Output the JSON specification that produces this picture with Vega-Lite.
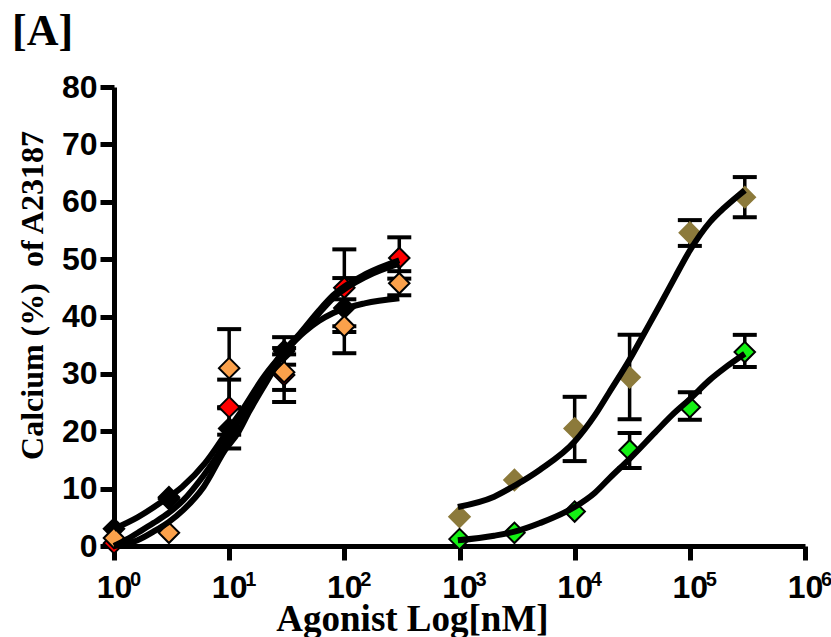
{
  "$schema": "https://vega.github.io/schema/vega-lite/v6.json",
  "width": 691,
  "height": 459,
  "autosize": {"type": "none"},
  "padding": {"left": 114, "top": 87, "right": 26, "bottom": 91},
  "background": "white",
  "title": {"text": "[A]", "anchor": "start", "frame": "group", "dx": -102, "offset": 17, "font": "Liberation Serif", "fontSize": 44, "fontWeight": "bold", "color": "black"},
  "config": {
    "view": {"stroke": null},
    "axis": {
      "grid": false,
      "domainColor": "black", "domainWidth": 5,
      "tickColor": "black", "tickWidth": 5, "tickSize": 14,
      "labelFont": "Liberation Sans", "labelFontWeight": "bold", "labelFontSize": 32, "labelColor": "black", "labelFlush": false,
      "titleFont": "Liberation Serif", "titleFontWeight": "bold", "titleColor": "black"
    }
  },
  "datasets": {
    "pts": [
      {"series": "red", "x": 1, "y": 0.5},
      {"series": "red", "x": 3, "y": 8.2},
      {"series": "black", "x": 1, "y": 3},
      {"series": "black", "x": 3, "y": 8.5},
      {"series": "black", "x": 10, "y": 20.5, "lo": 17, "hi": 24},
      {"series": "black", "x": 30, "y": 34, "lo": 31.6, "hi": 36.4},
      {"series": "black", "x": 100, "y": 41.5, "lo": 37.3, "hi": 46.7},
      {"series": "red", "x": 10, "y": 24.2, "lo": 19.4, "hi": 29},
      {"series": "red", "x": 30, "y": 29.8, "lo": 25.1, "hi": 34.5},
      {"series": "red", "x": 100, "y": 45, "lo": 38.3, "hi": 51.7},
      {"series": "red", "x": 300, "y": 50.2, "lo": 46.6, "hi": 53.8},
      {"series": "orange", "x": 1, "y": 1.4},
      {"series": "orange", "x": 3, "y": 2.3},
      {"series": "orange", "x": 10, "y": 31, "lo": 24.2, "hi": 37.8},
      {"series": "orange", "x": 30, "y": 30.3, "lo": 27.2, "hi": 33.4},
      {"series": "orange", "x": 100, "y": 38.3, "lo": 33.6, "hi": 43},
      {"series": "orange", "x": 300, "y": 45.8, "lo": 43.7, "hi": 47.9},
      {"series": "olive", "x": 1000, "y": 5.1},
      {"series": "olive", "x": 3000, "y": 11.5},
      {"series": "olive", "x": 10000, "y": 20.5, "lo": 14.8, "hi": 26},
      {"series": "olive", "x": 30000, "y": 29.4, "lo": 22.1, "hi": 36.8},
      {"series": "olive", "x": 100000, "y": 54.6, "lo": 52.3, "hi": 56.8},
      {"series": "olive", "x": 300000, "y": 60.8, "lo": 57.3, "hi": 64.3},
      {"series": "green", "x": 1000, "y": 1.2},
      {"series": "green", "x": 3000, "y": 2.3},
      {"series": "green", "x": 10000, "y": 6},
      {"series": "green", "x": 30000, "y": 16.7, "lo": 13.6, "hi": 19.7},
      {"series": "green", "x": 100000, "y": 24.2, "lo": 22, "hi": 26.8},
      {"series": "green", "x": 300000, "y": 33.8, "lo": 31.2, "hi": 36.8}
    ],
    "exps": [
      {"x": 1, "e": "0"},
      {"x": 10, "e": "1"},
      {"x": 100, "e": "2"},
      {"x": 1000, "e": "3"},
      {"x": 10000, "e": "4"},
      {"x": 100000, "e": "5"},
      {"x": 1000000, "e": "6"}
    ],
    "curves": [
      {"curve": "A", "x": 1, "y": 3},
      {"curve": "A", "x": 1.6, "y": 5},
      {"curve": "A", "x": 2.6, "y": 7.7},
      {"curve": "A", "x": 3.9, "y": 10.3},
      {"curve": "A", "x": 6.2, "y": 14.5},
      {"curve": "A", "x": 9.8, "y": 20.2},
      {"curve": "A", "x": 13, "y": 23.7},
      {"curve": "A", "x": 20, "y": 29.5},
      {"curve": "A", "x": 30, "y": 33.8},
      {"curve": "A", "x": 45, "y": 37.3},
      {"curve": "A", "x": 60, "y": 39.2},
      {"curve": "A", "x": 80, "y": 40.6},
      {"curve": "A", "x": 150, "y": 42.3},
      {"curve": "A", "x": 300, "y": 43.2},
      {"curve": "B", "x": 1, "y": 0},
      {"curve": "B", "x": 1.3, "y": 1.2},
      {"curve": "B", "x": 1.7, "y": 2.6},
      {"curve": "B", "x": 2.2, "y": 4},
      {"curve": "B", "x": 3, "y": 5.8},
      {"curve": "B", "x": 4, "y": 8},
      {"curve": "B", "x": 6, "y": 12.3},
      {"curve": "B", "x": 10, "y": 19},
      {"curve": "B", "x": 15, "y": 25},
      {"curve": "B", "x": 20, "y": 29},
      {"curve": "B", "x": 30, "y": 34},
      {"curve": "B", "x": 41, "y": 37},
      {"curve": "B", "x": 60, "y": 41},
      {"curve": "B", "x": 80, "y": 43.7},
      {"curve": "B", "x": 157, "y": 47.5},
      {"curve": "B", "x": 300, "y": 49.8},
      {"curve": "C", "x": 1, "y": 0},
      {"curve": "C", "x": 1.6, "y": 1},
      {"curve": "C", "x": 2.2, "y": 2.5},
      {"curve": "C", "x": 3, "y": 4.2},
      {"curve": "C", "x": 4, "y": 6.3},
      {"curve": "C", "x": 6, "y": 10.3},
      {"curve": "C", "x": 9.2, "y": 16.7},
      {"curve": "C", "x": 11.9, "y": 19.7},
      {"curve": "C", "x": 15, "y": 23.5},
      {"curve": "C", "x": 20, "y": 27.8},
      {"curve": "C", "x": 30, "y": 33.5},
      {"curve": "C", "x": 41, "y": 36.7},
      {"curve": "C", "x": 60, "y": 40.5},
      {"curve": "C", "x": 80, "y": 43.2},
      {"curve": "C", "x": 157, "y": 47},
      {"curve": "C", "x": 300, "y": 49.2},
      {"curve": "D", "x": 968, "y": 6.8},
      {"curve": "D", "x": 2000, "y": 8.6},
      {"curve": "D", "x": 3000, "y": 10.5},
      {"curve": "D", "x": 5000, "y": 13.3},
      {"curve": "D", "x": 10000, "y": 18.2},
      {"curve": "D", "x": 15000, "y": 22.8},
      {"curve": "D", "x": 20000, "y": 26.8},
      {"curve": "D", "x": 30000, "y": 32.5},
      {"curve": "D", "x": 40000, "y": 37},
      {"curve": "D", "x": 55000, "y": 42},
      {"curve": "D", "x": 75000, "y": 47},
      {"curve": "D", "x": 100000, "y": 51.5},
      {"curve": "D", "x": 150000, "y": 56.5},
      {"curve": "D", "x": 200000, "y": 59},
      {"curve": "D", "x": 300000, "y": 62},
      {"curve": "E", "x": 968, "y": 1},
      {"curve": "E", "x": 2000, "y": 1.8},
      {"curve": "E", "x": 3000, "y": 2.5},
      {"curve": "E", "x": 5000, "y": 4},
      {"curve": "E", "x": 10000, "y": 6.8},
      {"curve": "E", "x": 15000, "y": 9.3},
      {"curve": "E", "x": 20000, "y": 11.8},
      {"curve": "E", "x": 30000, "y": 15.2},
      {"curve": "E", "x": 50000, "y": 19.8},
      {"curve": "E", "x": 70000, "y": 22.8},
      {"curve": "E", "x": 100000, "y": 25.6},
      {"curve": "E", "x": 150000, "y": 29},
      {"curve": "E", "x": 200000, "y": 31},
      {"curve": "E", "x": 300000, "y": 33.5}
    ]
  },
  "layer": [
    {
      "data": {"name": "pts"},
      "mark": {"type": "rule", "color": "black", "strokeWidth": 3.5},
      "encoding": {
        "x": {"field": "x", "type": "quantitative", "scale": {"type": "log", "domain": [1, 1000000]},
          "axis": {"values": [1, 10, 100, 1000, 10000, 100000, 1000000], "labelExpr": "'10'", "title": "Agonist Log[nM]", "titleFontSize": 37, "labelPadding": 12, "titlePadding": -2, "titleX": 298}},
        "y": {"field": "lo", "type": "quantitative", "scale": {"domain": [0, 80]},
          "axis": {"values": [0, 10, 20, 30, 40, 50, 60, 70, 80], "title": "Calcium (%)\u00a0\u00a0of A23187", "titleFontSize": 32, "labelPadding": 3, "titlePadding": 12, "titleY": 208}},
        "y2": {"field": "hi"}
      }
    },
    {
      "data": {"name": "pts"},
      "mark": {"type": "tick", "orient": "horizontal", "color": "black", "size": 24, "thickness": 4, "opacity": 1},
      "encoding": {
        "x": {"field": "x", "type": "quantitative"},
        "y": {"field": "lo", "type": "quantitative"}
      }
    },
    {
      "data": {"name": "pts"},
      "mark": {"type": "tick", "orient": "horizontal", "color": "black", "size": 24, "thickness": 4, "opacity": 1},
      "encoding": {
        "x": {"field": "x", "type": "quantitative"},
        "y": {"field": "hi", "type": "quantitative"}
      }
    },
    {
      "data": {"name": "pts"},
      "mark": {"type": "point", "shape": "diamond", "filled": true, "size": 420, "strokeWidth": 2, "opacity": 1},
      "encoding": {
        "x": {"field": "x", "type": "quantitative"},
        "y": {"field": "y", "type": "quantitative"},
        "fill": {"field": "series", "type": "nominal", "legend": null,
          "scale": {"domain": ["black", "red", "orange", "olive", "green"], "range": ["#000000", "#FF0000", "#FBA14B", "#8C7A3B", "#14F014"]}},
        "stroke": {"field": "series", "type": "nominal", "legend": null,
          "scale": {"domain": ["black", "red", "orange", "olive", "green"], "range": ["#000000", "#000000", "#000000", "#8C7A3B", "#000000"]}}
      }
    },
    {
      "data": {"name": "curves"},
      "mark": {"type": "line", "color": "black", "strokeWidth": 6, "interpolate": "monotone"},
      "encoding": {
        "x": {"field": "x", "type": "quantitative"},
        "y": {"field": "y", "type": "quantitative"},
        "detail": {"field": "curve", "type": "nominal"}
      }
    },
    {
      "data": {"name": "exps"},
      "mark": {"type": "text", "font": "Liberation Sans", "fontWeight": "bold", "fontSize": 20, "color": "black", "align": "left", "baseline": "alphabetic", "dx": 16, "dy": 40},
      "encoding": {
        "x": {"field": "x", "type": "quantitative"},
        "y": {"datum": 0, "type": "quantitative"},
        "text": {"field": "e"}
      }
    }
  ]
}
